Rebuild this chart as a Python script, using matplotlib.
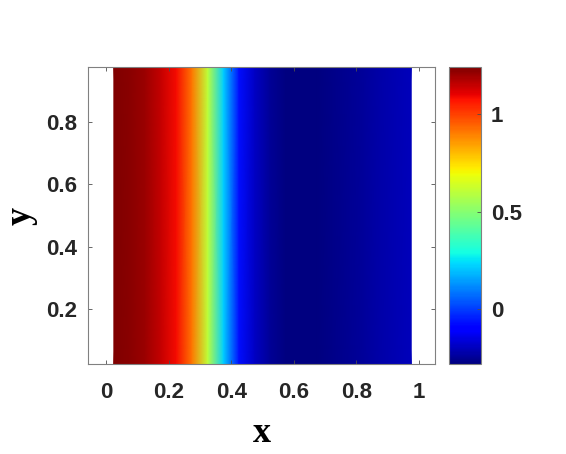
import numpy as np
import matplotlib.pyplot as plt

# profile along x (constant in y)
x_vals = [0.025, 0.075, 0.125, 0.175, 0.225, 0.275, 0.325, 0.375, 0.425, 0.475,
          0.525, 0.575, 0.625, 0.675, 0.725, 0.775, 0.825, 0.875, 0.925, 0.975]
u_vals = [1.24, 1.225, 1.20, 1.15, 1.08, 0.91, 0.60, 0.22, -0.07, -0.19,
          -0.25, -0.275, -0.28, -0.275, -0.265, -0.255, -0.24, -0.225, -0.21, -0.20]
y_vals = [0.025, 0.975]

x_ticks = [0, 0.2, 0.4, 0.6, 0.8, 1]
y_ticks = [0.2, 0.4, 0.6, 0.8]
cb_ticks = [0, 0.5, 1]

plt.rcParams['font.family'] = ['Liberation Sans', 'DejaVu Sans']
plt.rcParams['font.weight'] = 'bold'

X, Y = np.meshgrid(x_vals, y_vals)
U = np.tile(u_vals, (len(y_vals), 1))

fig = plt.figure(figsize=(5.66, 4.54), dpi=100)
ax = fig.add_axes([0.1555, 0.1982, 0.6131, 0.6542])
cax = fig.add_axes([0.7933, 0.1982, 0.0565, 0.6542])

mesh = ax.pcolormesh(X, Y, U, shading='gouraud', cmap='jet',
                     vmin=min(u_vals), vmax=max(u_vals))
ax.set_xlim(-0.0575, 1.051)
ax.set_ylim(0.025, 0.975)
ax.set_xticks(x_ticks)
ax.set_xticklabels(['0', '0.2', '0.4', '0.6', '0.8', '1'])
ax.set_yticks(y_ticks)
ax.set_yticklabels(['0.2', '0.4', '0.6', '0.8'])

for a in (ax, cax):
    for s in a.spines.values():
        s.set_color('0.5')
        s.set_linewidth(0.8)
ax.tick_params(direction='in', top=True, right=True, length=3, width=0.6,
               color='0.3', labelsize=16, labelcolor='#262626')
ax.tick_params(axis='x', pad=13)
ax.tick_params(axis='y', pad=8)

ax.set_xlabel('x', family='Liberation Serif', fontsize=26, fontweight='bold', labelpad=10)
ax.set_ylabel('y', family='Liberation Serif', fontsize=26, fontweight='bold', labelpad=6)

cb = fig.colorbar(mesh, cax=cax, ticks=cb_ticks)
cb.ax.set_yticklabels(['0', '0.5', '1'])
cb.outline.set_edgecolor('0.5')
cb.ax.tick_params(direction='in', length=3, width=0.6, color='0.3',
                  labelsize=16, labelcolor='#262626', pad=7)

fig.savefig('out.png', dpi=100)
